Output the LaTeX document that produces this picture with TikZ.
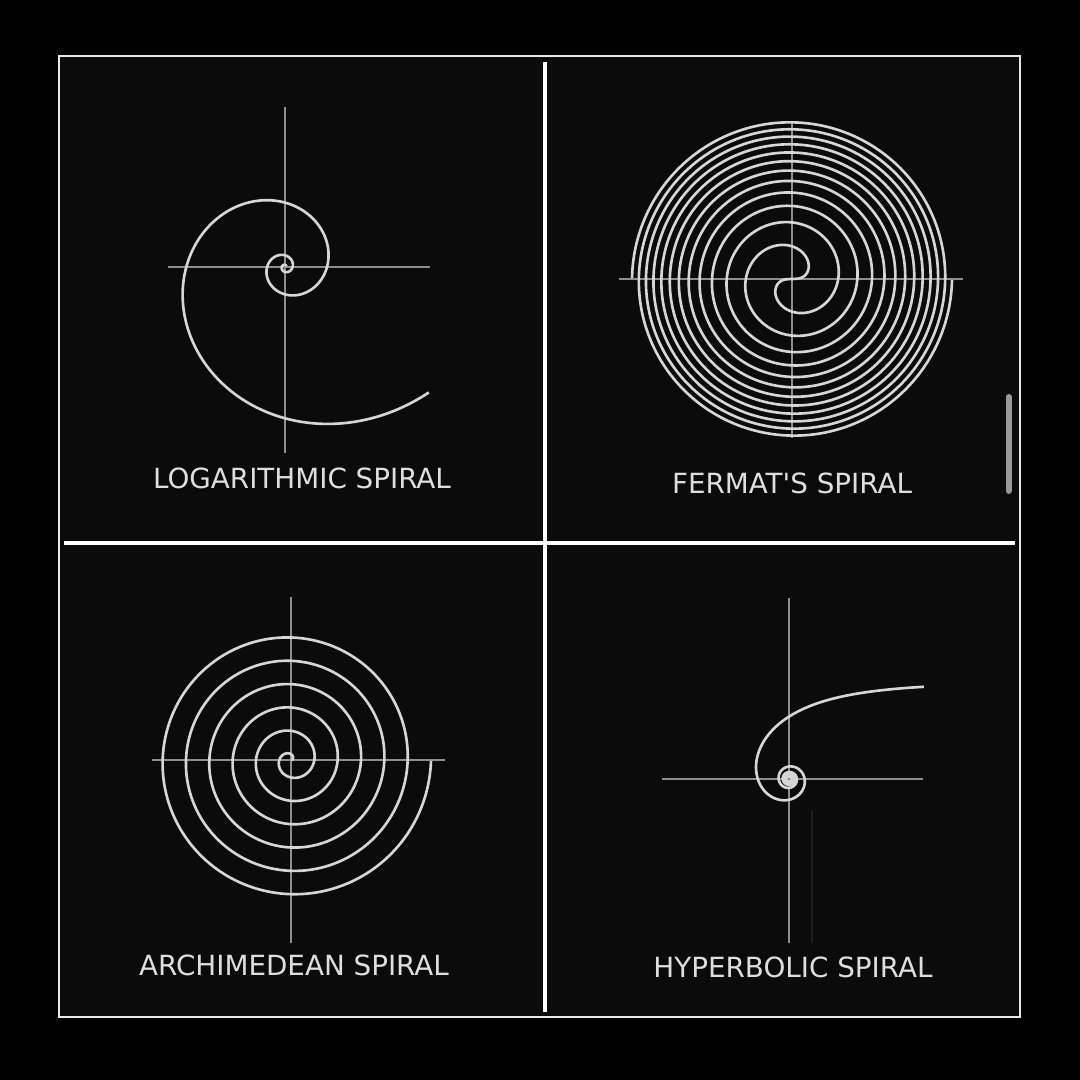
\documentclass[tikz,border=0pt]{standalone}
\usepackage{fontspec}
\setmainfont{DejaVu Sans}
\newfontfamily\captionfont{DejaVu Sans}
\usetikzlibrary{positioning}
\definecolor{panelbg}{HTML}{0B0B0B}
\definecolor{curvegrey}{HTML}{D6D6D6}
\definecolor{axisgrey}{HTML}{8E8E8E}
\definecolor{faintgrey}{HTML}{1E1E1E}
\definecolor{framegrey}{HTML}{E8E8E8}
\definecolor{textgrey}{HTML}{DEDEDE}
\begin{document}
\begin{tikzpicture}[
  x=0.01cm, y=0.01cm,
  curve/.style={draw=curvegrey, line width=0.75pt, line join=round},
  axis/.style={draw=axisgrey, line width=0.45pt},
  divider/.style={draw=white, line width=1.15pt},
  caption/.style={text=textgrey, font=\captionfont\fontsize{7.9}{9}\selectfont, inner sep=0pt}
]
  \useasboundingbox (0,0) rectangle (1080,1080);
  \fill[black] (0,0) rectangle (1080,1080);
  \draw[draw=framegrey, line width=0.6pt, fill=panelbg] (59,63) rectangle (1020,1024);
  \draw[divider] (545,68) -- (545,1018);
  \draw[divider] (64,537) -- (1015,537);
  \draw[draw=gray!80, line width=1.7pt, line cap=round] (1008.5,589) -- (1008.5,683);

  \draw[axis] (168,813) -- (430,813);
  \draw[axis] (285,973) -- (285,627);
  \begin{scope}[shift={(285,813)}]
    \draw[curve] plot[domain=-12:5.57, samples=500, smooth, variable=\t]
      ({42*exp(0.272*\t)*cos(deg(\t))}, {42*exp(0.272*\t)*sin(deg(\t))});
  \end{scope}
  \node[caption] (loglabel) at (302,602) {LOGARITHMIC SPIRAL};

  \draw[axis] (619,801) -- (963,801);
  \draw[axis] (792,959) -- (792,642);
  \begin{scope}[shift={(792,801)}]
    \draw[curve] plot[domain=0:37.699, samples=700, smooth, variable=\t]
      ({26.06*sqrt(\t)*cos(deg(\t)+180)}, {26.06*sqrt(\t)*sin(deg(\t)+180)});
    \draw[curve] plot[domain=0:37.699, samples=700, smooth, variable=\t]
      ({26.06*sqrt(\t)*cos(deg(\t))}, {26.06*sqrt(\t)*sin(deg(\t))});
  \end{scope}
  \node[caption] (fermatlabel) at (792,597) {FERMAT'S SPIRAL};

  \draw[axis] (152,320) -- (445,320);
  \draw[axis] (291,483) -- (291,137);
  \begin{scope}[shift={(291,320)}]
    \draw[curve] plot[domain=0:37.699, samples=700, smooth, variable=\t]
      ({3.714*\t*cos(deg(\t))}, {3.714*\t*sin(deg(\t))});
  \end{scope}
  \node[caption] (archlabel) at (294,115) {ARCHIMEDEAN SPIRAL};

  \draw[axis] (662,301) -- (923,301);
  \draw[axis] (789,482) -- (789,137);
  \draw[draw=faintgrey, line width=0.4pt] (812,270) -- (812,137);
  \begin{scope}[shift={(789,301)}]
    \draw[curve] plot[domain=0.6:40, samples=800, smooth, variable=\t]
      ({98*cos(deg(\t))/\t}, {98*sin(deg(\t))/\t});
  \end{scope}
  \node[caption] (hyplabel) at (793,113) {HYPERBOLIC SPIRAL};
\end{tikzpicture}
\end{document}
